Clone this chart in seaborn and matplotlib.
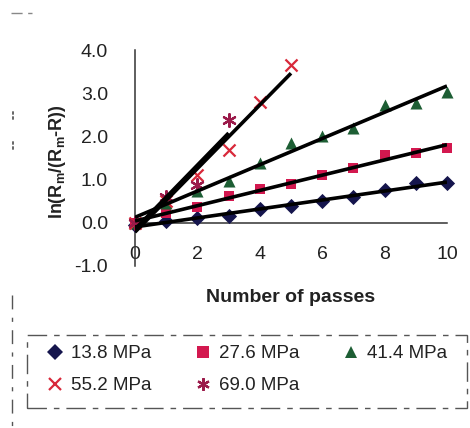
import numpy as np
import pandas as pd
import matplotlib
matplotlib.use("Agg")
import matplotlib.pyplot as plt
from matplotlib.lines import Line2D
from matplotlib.patches import Rectangle
import seaborn as sns

# Measured ln(Rm/(Rm-R)) against number of passes for each pressure
passes_long = [0, 1, 2, 3, 4, 5, 6, 7, 8, 9, 10]
passes_55 = [0, 1, 2, 3, 4, 5]
passes_69 = [0, 1, 2, 3]

vals_138 = [-0.05, 0.04, 0.10, 0.16, 0.32, 0.39, 0.50, 0.60, 0.76, 0.92, 0.92]
vals_276 = [0.00, 0.22, 0.37, 0.62, 0.79, 0.90, 1.10, 1.27, 1.56, 1.62, 1.73]
vals_414 = [0.00, 0.45, 0.74, 0.97, 1.39, 1.85, 2.00, 2.19, 2.73, 2.77, 3.03]
vals_552 = [0.00, 0.50, 1.10, 1.69, 2.80, 3.65]
vals_690 = [0.00, 0.60, 0.88, 2.38]

labels = ["13.8 MPa", "27.6 MPa", "41.4 MPa", "55.2 MPa", "69.0 MPa"]
x_ticks = [0, 2, 4, 6, 8, 10]
y_ticks = [-1.0, 0.0, 1.0, 2.0, 3.0, 4.0]

sns.set_style("white")
plt.rcParams["font.family"] = ["Liberation Sans", "DejaVu Sans"]
plt.rcParams["mathtext.fontset"] = "custom"
plt.rcParams["mathtext.rm"] = "Liberation Sans:bold"
plt.rcParams["mathtext.bf"] = "Liberation Sans:bold"

series = [
    (passes_long, vals_138, "D", "#15154d", 60, 0.0),
    (passes_long, vals_276, "s", "#d3184f", 60, 0.0),
    (passes_long, vals_414, "^", "#1d5e34", 75, 0.0),
    (passes_55, vals_552, "x", "#d8283a", 75, 1.6),
    (passes_69, vals_690, (6, 2, 0), "#9b1a4a", 85, 1.6),
]

fig = plt.figure(figsize=(4.70, 4.28), dpi=100)
ax = fig.add_axes([135 / 470, 1 - 266 / 428, 312 / 470, 216 / 428])

for (xs, ys, mk, col, size, lw), lab in zip(series, labels):
    df = pd.DataFrame({"passes": xs, "value": ys})
    sns.scatterplot(data=df, x="passes", y="value", marker=mk, color=col,
                    s=size, linewidth=lw if lw else 0, edgecolor=col,
                    ax=ax, clip_on=False, zorder=3)
    sns.regplot(data=df, x="passes", y="value", scatter=False, ci=None,
                truncate=True, color="black", ax=ax,
                line_kws={"linewidth": 2.6, "zorder": 4, "solid_capstyle": "butt"})

ax.set_xlim(0, 10)
ax.set_ylim(-1.0, 4.0)
ax.set_xticks(x_ticks)
ax.set_yticks(y_ticks)
ax.set_xticklabels([str(t) for t in x_ticks])
ax.set_yticklabels([f"{t:.1f}" for t in y_ticks])
ax.set_xlabel("")
ax.set_ylabel("")

for side in ("top", "right"):
    ax.spines[side].set_visible(False)
ax.spines["left"].set_position(("data", 0))
ax.spines["bottom"].set_position(("data", 0))
for side in ("left", "bottom"):
    ax.spines[side].set_color("#333333")
    ax.spines[side].set_linewidth(1.1)
    ax.spines[side].set_zorder(2)

ax.tick_params(axis="both", direction="inout", length=9, width=1.0,
               color="#555555", labelsize=14, labelcolor="#222222")
ax.tick_params(axis="y", pad=15)
ax.tick_params(axis="x", pad=12)

fig.text(291 / 470, 1 - 298 / 428, "Number of passes", ha="center", va="center",
         fontsize=14, fontweight="bold", color="#222222")
fig.text(58 / 470, 1 - 162 / 428, r"ln(R$_\mathrm{m}$/(R$_\mathrm{m}$-R))",
         rotation=90, ha="center", va="center", fontsize=13,
         fontweight="bold", color="#222222")

# legend filled column by column, so order entries to read row by row
order = [0, 3, 1, 4, 2]
handles = [Line2D([], [], linestyle="none", marker=mk, color=col, markeredgecolor=col,
                  markersize=8 if mk in ("D", "s") else 9, markeredgewidth=lw if lw else 0)
           for (_, _, mk, col, _, lw) in series]
leg = fig.legend([handles[i] for i in order], [labels[i] for i in order], ncol=3,
                 loc="upper left", bbox_to_anchor=(49 / 470, 1 - 345 / 428),
                 bbox_transform=fig.transFigure,
                 fontsize=13.5, handlelength=0.6, handletextpad=0.55,
                 columnspacing=2.45, borderaxespad=0, borderpad=0,
                 frameon=False, labelspacing=0.8)
for t in leg.get_texts():
    t.set_color("#222222")

# broken dashed frame around the legend
fig.add_artist(Rectangle((27 / 470, 1 - 408 / 428), 440 / 470, 73 / 428,
                         transform=fig.transFigure, fill=False,
                         edgecolor="#555555", linewidth=1.0,
                         linestyle=(0, (14, 5, 4, 5))))

# faint dashed page marks along the left edge and top
fig.add_artist(Line2D([12 / 470, 12 / 470], [1 - 295 / 428, 0], transform=fig.transFigure,
                      color="#555555", linewidth=1.0, linestyle=(0, (10, 6, 3, 6))))
fig.add_artist(Line2D([11 / 470, 32 / 470], [1 - 13 / 428, 1 - 13 / 428],
                      transform=fig.transFigure, color="#888888", linewidth=1.0,
                      linestyle=(0, (8, 4))))
for yy in (112, 117, 142, 147):
    fig.add_artist(Line2D([13 / 470, 13 / 470], [1 - yy / 428, 1 - (yy + 2) / 428],
                          transform=fig.transFigure, color="#666666", linewidth=1.4))

fig.savefig("out.png", dpi=100)
